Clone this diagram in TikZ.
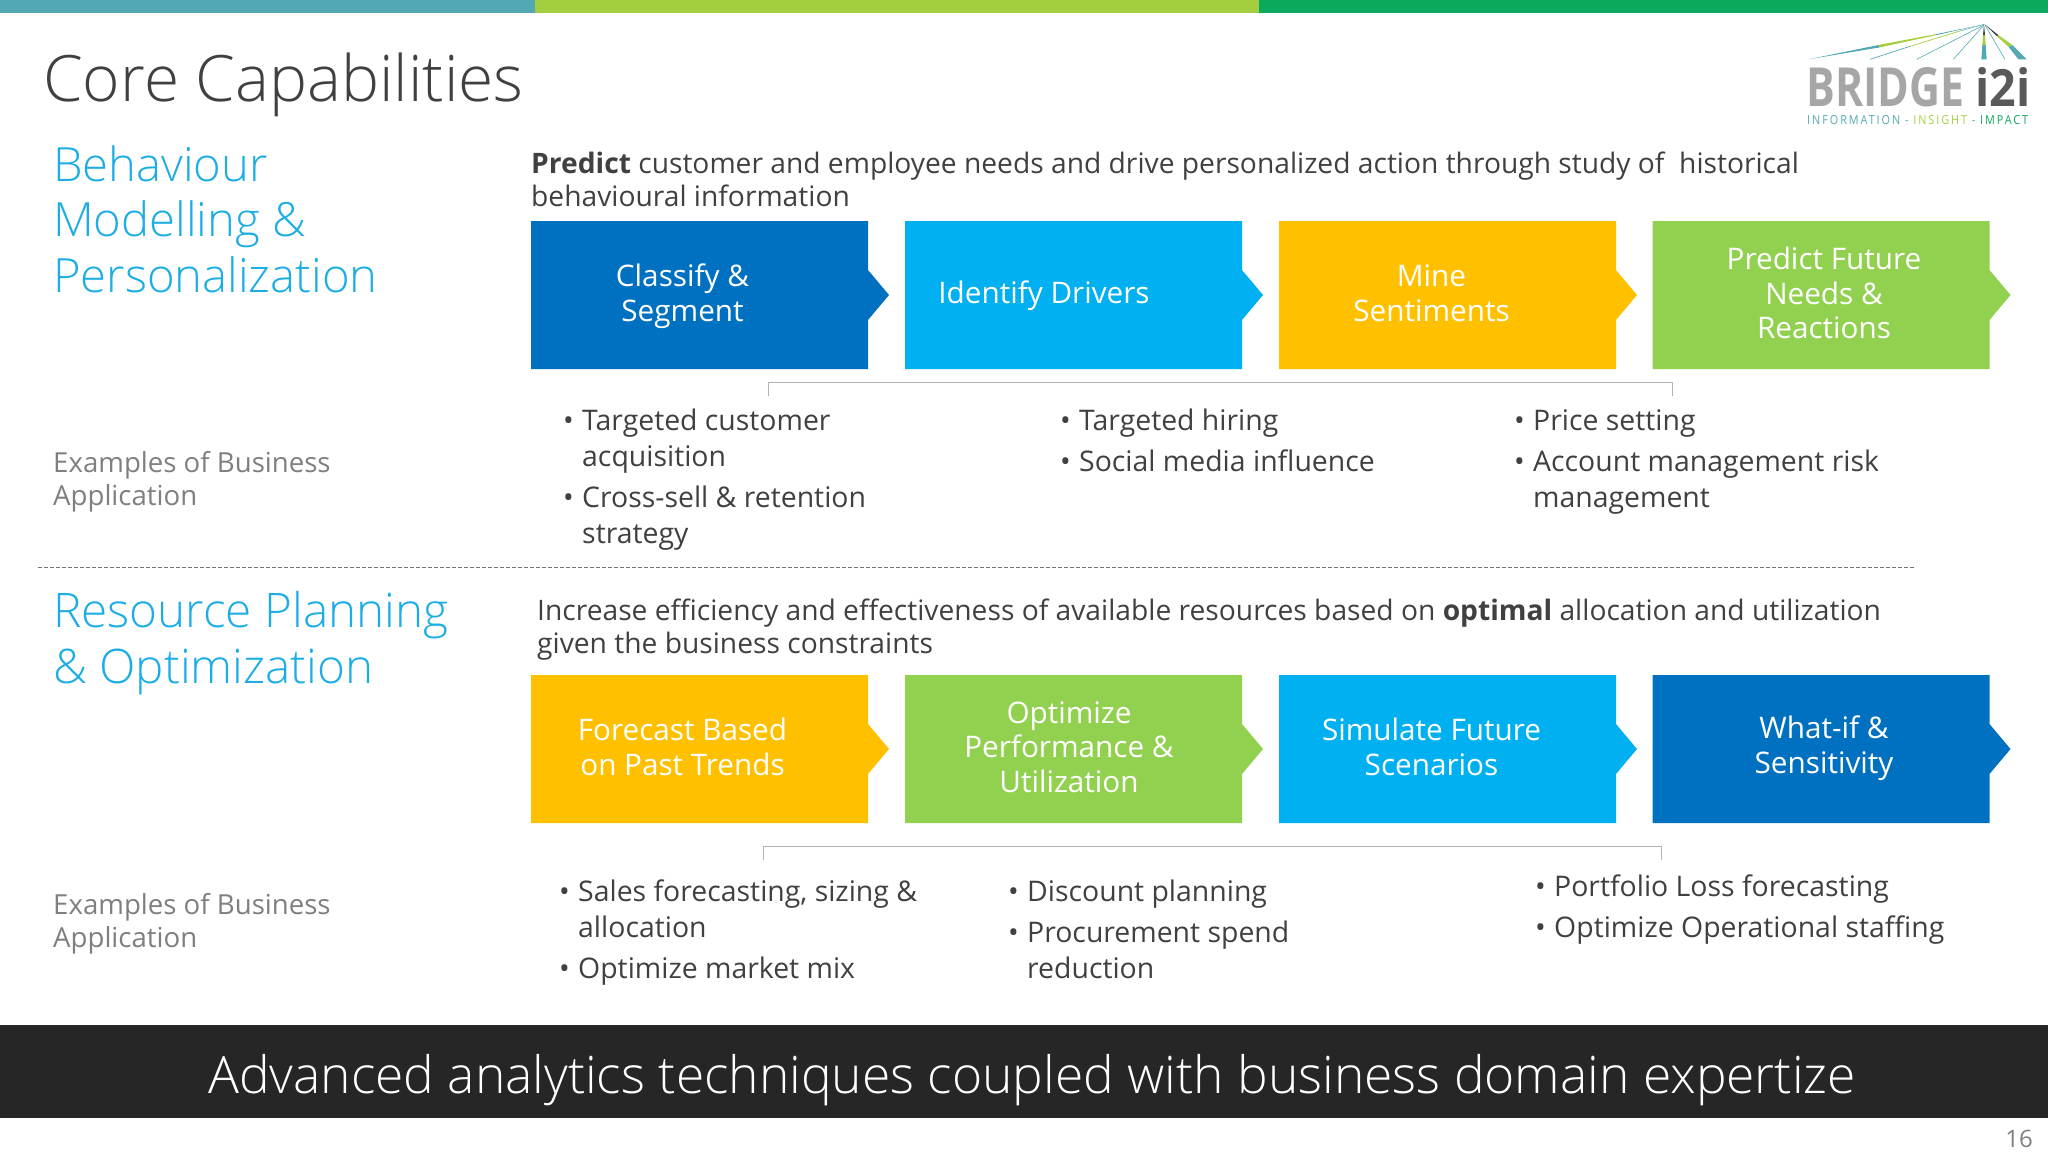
\documentclass[tikz,border=0pt]{standalone}
\usepackage{graphicx}
\usepackage{fontspec}
\setmainfont{Open Sans}
\newfontfamily\lightfont{Open Sans Light}
\usetikzlibrary{positioning}
\definecolor{darkblue}{HTML}{0070C0}
\definecolor{skyblue}{HTML}{00B0F0}
\definecolor{gold}{HTML}{FFC000}
\definecolor{leaf}{HTML}{92D050}
\definecolor{headblue}{HTML}{1CADE4}
\definecolor{bodygray}{HTML}{404040}
\definecolor{softgray}{HTML}{7F7F7F}
\definecolor{topteal}{HTML}{52A9B3}
\definecolor{toplime}{HTML}{A4CE3F}
\definecolor{topgreen}{HTML}{0BA95C}
\definecolor{bandgray}{HTML}{262626}
\tikzset{
  heading/.style={anchor=base west,inner sep=0pt,align=left,text=headblue,font=\lightfont\fontsize{47.2}{55.5}\selectfont},
  subhead/.style={anchor=base west,inner sep=0pt,align=left,text=softgray,font=\fontsize{27.6}{32.5}\selectfont},
  intro/.style={anchor=base west,inner sep=0pt,align=left,text=bodygray,font=\fontsize{28.2}{32.5}\selectfont},
  itemtext/.style={anchor=base west,inner sep=0pt,align=left,text=bodygray,font=\fontsize{28.4}{36}\selectfont},
  blocktext/.style={inner sep=0pt,align=center,text=white,font=\fontsize{29.7}{34.5}\selectfont},
  bracket/.style={draw=black!30,line width=1pt},
}
\newcommand{\stepblock}[3]{\fill[#3] (#1,#2)--(#1+337,#2)--(#1+337,#2+49)--(#1+358,#2+74)--(#1+337,#2+99)--(#1+337,#2+148)--(#1,#2+148)--cycle;}
\newcommand{\bulletitem}[4]{
  \node[itemtext] (#1dot) at (#2,#3) {\textbullet};
  \node[itemtext] (#1) at (#2+19,#3) {\begin{tabular}[t]{@{}l@{}}#4\end{tabular}};
}
\begin{document}
\begin{tikzpicture}[x=1pt,y=-1pt]
\useasboundingbox (0,0) rectangle (2048,1152);

\fill[topteal] (0,0) rectangle (535,12.5);
\fill[toplime] (535,0) rectangle (1259,12.5);
\fill[topgreen] (1259,0) rectangle (2048,12.5);

\node[anchor=base west,inner sep=0pt,text=bodygray,font=\lightfont\fontsize{64}{70}\selectfont] (title) at (43,101) {Core Capabilities};

%logo
\begin{scope}[shift={(1760,0)},scale=1/3]
\fill[topteal] (145,178)--(355,135)--(360,142)--cycle;
\fill[toplime] (355,135)--(360,142)--(530,105)--(525,103)--cycle;
\fill[topteal] (525,103)--(530,105)--(672,73)--cycle;
\draw[topteal,line width=.7pt] (330,178)--(450,139);
\draw[toplime,line width=.7pt] (450,139)--(600,93);
\draw[topteal,line width=.5pt] (600,93)--(672,73);
\draw[topteal,line width=.6pt] (470,178)--(672,75);
\draw[topteal,line width=.6pt] (580,178)--(672,75);
\draw[topteal,line width=.6pt] (735,178)--(675,75);
\fill[topteal] (664,178)--(680,178)--(677,135)--(667,135)--cycle;
\fill[toplime] (667,135)--(677,135)--(675,105)--(669,105)--cycle;
\fill[bodygray] (669,105)--(675,105)--(672,73)--cycle;
\fill[topteal] (800,178)--(775,178)--(745,140)--(757,135)--cycle;
\fill[toplime] (745,140)--(757,135)--(715,105)--(710,108)--cycle;
\fill[bodygray] (715,105)--(710,108)--(674,73)--cycle;
\end{scope}
\node[anchor=base west,inner sep=0pt,text=black!35] (logoa) at (1806,106) {\resizebox{158pt}{39pt}{\bfseries BRIDGE}};
\node[anchor=base west,inner sep=0pt,text=black!65] (logob) at (1975,106) {\resizebox{55pt}{39pt}{\bfseries i2i}};
\node[anchor=base west,inner sep=0pt] (logoc) at (1807,124) {\resizebox{221pt}{9pt}{\addfontfeature{LetterSpace=18}\color{topteal}INFORMATION - \color{toplime}INSIGHT \color{topteal}- \color{topgreen}IMPACT}};

%first row
\node[heading] (behav) at (53,292) {Behaviour\\Modelling \&\\Personalization};
\node[intro] (predict) at (531,206) {\textbf{Predict} customer and employee needs and drive personalized action through study of\ \ historical\\behavioural information};

\stepblock{531}{221}{darkblue}
\stepblock{905}{221}{skyblue}
\stepblock{1279}{221}{gold}
\stepblock{1652.5}{221}{leaf}
\node[blocktext] (classify) at (682.5,296) {Classify \&\\Segment};
\node[blocktext] (identify) at (1044,296) {Identify Drivers};
\node[blocktext] (mine) at (1431.5,293) {Mine\\Sentiments};
\node[blocktext] (future) at (1824,293) {Predict Future\\Needs \&\\Reactions};

\coordinate (brktaw) at (768,396);
\coordinate (brktae) at (1672,396);
\draw[bracket] (brktaw)--++(0,-13.5)-|(brktae);

\node[subhead] (exama) at (53,505) {Examples of Business\\Application};
\bulletitem{targeted}{563}{430}{Targeted customer\\acquisition}
\bulletitem{crosssell}{563}{507}{Cross-sell \& retention\\strategy}
\bulletitem{hiring}{1060}{430}{Targeted hiring}
\bulletitem{social}{1060}{471}{Social media influence}
\bulletitem{price}{1514}{430}{Price setting}
\bulletitem{account}{1514}{471}{Account management risk\\management}

\coordinate (dashw) at (38,567.5);
\coordinate (dashe) at (1916,567.5);
\draw[black!55,dash pattern=on 4pt off 2pt,line width=1.2pt] (dashw)--(dashe);

%second row
\node[heading,font=\lightfont\fontsize{47.6}{55.5}\selectfont] (resource) at (53,683) {Resource Planning\\\& Optimization};
\node[intro] (increase) at (537,653) {Increase efficiency and effectiveness of available resources based on \textbf{optimal} allocation and utilization\\given the business constraints};

\stepblock{531}{675}{gold}
\stepblock{905}{675}{leaf}
\stepblock{1279}{675}{skyblue}
\stepblock{1652.5}{675}{darkblue}
\node[blocktext] (forecast) at (682.5,747) {Forecast Based\\on Past Trends};
\node[blocktext] (optimize) at (1069,747) {Optimize\\Performance \&\\Utilization};
\node[blocktext] (simulate) at (1431.5,747) {Simulate Future\\Scenarios};
\node[blocktext] (whatif) at (1824,748) {What-if \&\\Sensitivity};

\coordinate (brktbw) at (763,860);
\coordinate (brktbe) at (1661,860);
\draw[bracket] (brktbw)--++(0,-14)-|(brktbe);

\node[subhead] (examb) at (53,947) {Examples of Business\\Application};
\bulletitem{sales}{559}{901}{Sales forecasting, sizing \&\\allocation}
\bulletitem{mix}{559}{978}{Optimize market mix}
\bulletitem{discount}{1008}{901}{Discount planning}
\bulletitem{procure}{1008}{942}{Procurement spend\\reduction}
\bulletitem{loss}{1535}{896}{Portfolio Loss forecasting}
\bulletitem{staffing}{1535}{937}{Optimize Operational staffing}

\fill[bandgray] (0,1025) rectangle (2048,1118);
\node[inner sep=0pt,text=white,font=\lightfont\fontsize{51.5}{60}\selectfont] (tagline) at (1032,1080) {Advanced analytics techniques coupled with business domain expertize};
\node[anchor=base east,inner sep=0pt,text=softgray,font=\fontsize{24}{28}\selectfont] (pagenum) at (2033,1147) {16};
\end{tikzpicture}
\end{document}
